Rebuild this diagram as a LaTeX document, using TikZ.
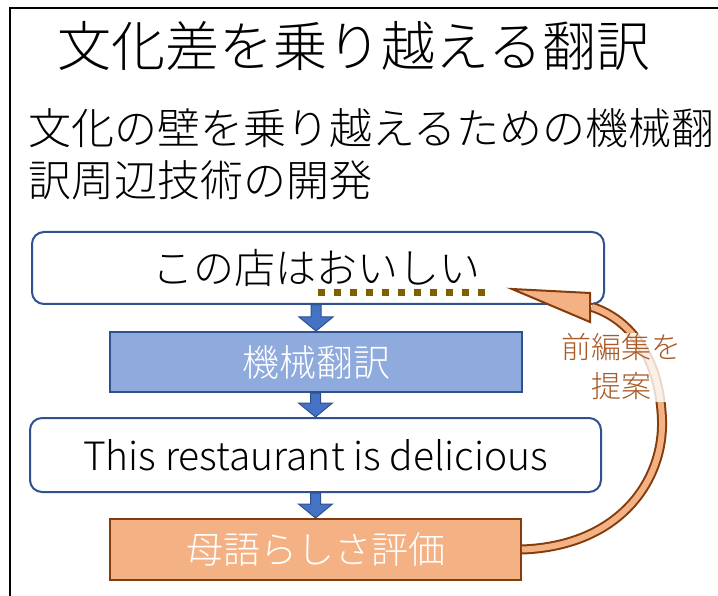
\documentclass[tikz,border=0pt]{standalone}
\usepackage{fontspec}
\setmainfont{Noto Sans CJK JP}[UprightFont=* Light]
\usetikzlibrary{calc}
\definecolor{bluefill}{HTML}{8FAADC}
\definecolor{blueline}{HTML}{2F528F}
\definecolor{bluearrow}{HTML}{4472C4}
\definecolor{orfill}{HTML}{F4B183}
\definecolor{orline}{HTML}{843C0C}
\definecolor{dotcol}{HTML}{7F6000}
\definecolor{lblcol}{HTML}{A85A28}
\tikzset{
  roundbox/.style={draw=blueline, line width=2pt, fill=white, rounded corners=12pt, inner sep=0pt},
  bluebox/.style={draw=blueline, line width=2pt, fill=bluefill, text=white, inner sep=0pt},
  orbox/.style={draw=orline, line width=2pt, fill=orfill, text=white, inner sep=0pt},
  blockarr/.style={fill=bluearrow, draw=blueline, line width=1pt, line join=miter},
}
\newcommand{\blockdown}[2]{%
  \path[blockarr] let \p1=(#1.south), \p2=(#2.north) in
    (\x2-5pt,\y1) -- (\x2+5pt,\y1) -- (\x2+5pt,\y2+14pt) -- (\x2+17pt,\y2+14pt)
    -- (\x2,\y2) -- (\x2-17pt,\y2+14pt) -- (\x2-5pt,\y2+14pt) -- cycle;}
\begin{document}
\begin{tikzpicture}[x=1pt,y=-1pt]
\useasboundingbox (0,0) rectangle (718,596);
\clip (0,0) rectangle (718,596);
\fill[white] (0,0) rectangle (718,596);
\draw[line width=2pt] (10,8) rectangle (740,620);

\node[font=\fontsize{54}{60}\selectfont] (title) at (354,46) {文化差を乗り越える翻訳};
\node[anchor=west, align=left, inner sep=0pt, font=\fontsize{43}{52}\selectfont] (sub) at (28,154)
  {文化の壁を乗り越えるための機械翻\\訳周辺技術の開発};

\node[roundbox, minimum width=572pt, minimum height=72pt, font=\fontsize{41}{44}\selectfont] (b1) at (318,268) {\hspace*{-4pt}この店はおいしい};
\node[bluebox, minimum width=412pt, minimum height=60pt, font=\fontsize{37}{40}\selectfont] (b2) at (316,362) {機械翻訳};
\node[roundbox, minimum width=571pt, minimum height=74pt, font=\fontsize{39}{42}\selectfont] (b3) at (315.5,455) {This restaurant is delicious};
\node[orbox, minimum width=411pt, minimum height=61pt, font=\fontsize{37}{40}\selectfont] (b4) at (315.5,549.5) {母語らしさ評価};

\blockdown{b1}{b2}
\blockdown{b2}{b3}
\blockdown{b3}{b4}

\coordinate (u1) at (318,293);
\coordinate (u2) at (485,293);
\draw[dotcol, line width=7pt, dash pattern=on 7pt off 9pt] (u1) -- (u2);

\coordinate (tip) at (512,289);
\coordinate (hb) at (592,307);
\draw[orline, line width=10pt] (b4.east) .. controls (620,546) and (664,480) .. (662,420) .. controls (660,360) and (632,320) .. (hb);
\draw[orfill, line width=6pt] (b4.east) .. controls (620,546) and (664,480) .. (662,420) .. controls (660,360) and (632,320) .. (hb);
\filldraw[fill=orfill, draw=orline, line width=2pt, line join=miter] (tip) -- (590,293) -- (590,322) -- cycle;

\fill[white, opacity=0.8] (556,333) rectangle (666,402);
\node[text=lblcol, align=center, inner sep=0pt, font=\fontsize{30}{39}\selectfont] (lab) at (621,367) {前編集を\\提案};
\end{tikzpicture}
\end{document}
